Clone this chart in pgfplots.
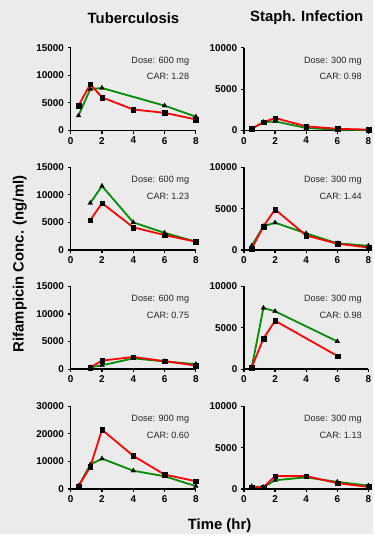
\documentclass[border=0pt]{standalone}
\usepackage{pgfplots}
\pgfplotsset{compat=1.18}
\usepackage{fontspec}
\setmainfont{Liberation Sans}
\definecolor{bg}{RGB}{235,235,235}
\definecolor{pgreen}{RGB}{0,140,0}
\definecolor{pred}{RGB}{255,0,0}
\pgfplotsset{
 panel/.style={scale only axis, height=83bp, anchor=south west,
  axis x line*=bottom, axis y line*=left,
  axis line style={line width=1.5bp, black, -},
  xmin=0, xmax=8, ymin=0, xtick={0,2,4,6,8},
  tick align=outside, major tick length=3.2bp,
  tick style={line width=1.2bp, black}, clip=false,
  ticklabel style={font=\bfseries\fontsize{10}{11}\selectfont},
  /pgf/number format/assume math mode=true,
  /pgf/number format/1000 sep={},
  scaled y ticks=false,
 },
 leftp/.style={panel, width=125.7bp},
 rightp/.style={panel, width=125bp, ymax=10000, ytick={0,5000,10000}},
 tb/.style={ymax=15000, ytick={0,5000,10000,15000}},
 gser/.style={pgreen, line width=1.8bp, mark=triangle*, mark size=2.8bp,
   mark options={black, fill=black, line width=0.2bp}},
 rser/.style={pred, line width=1.8bp, mark=square*, mark size=2.3bp,
   mark options={black, fill=black, line width=0.2bp}},
}
\tikzset{pnote/.style={anchor=east, font=\fontsize{9.2}{10}\selectfont, text=black!85}}
\newcommand{\notes}[2]{%
  \node[pnote] at (rel axis cs:0.974,0.84) {Dose: #1 mg};
  \node[pnote] at (rel axis cs:0.974,0.652) {CAR: #2};}
\begin{document}
\begin{tikzpicture}
\fill[bg] (0bp,0bp) rectangle (375bp,536bp);
\node[font=\bfseries\fontsize{15}{16}\selectfont] at (134bp,518bp) {Tuberculosis};
\node[font=\bfseries\fontsize{15}{16}\selectfont] at (308bp,518.5bp) {Staph. Infection};
\node[font=\bfseries\fontsize{15}{16}\selectfont, rotate=90] at (20bp,271bp) {Rifampicin Conc. (ng/ml)};
\node[font=\bfseries\fontsize{15}{16}\selectfont] at (220.5bp,8bp) {Time (hr)};

% Row 1
\begin{axis}[leftp, tb, at={(71bp,405bp)}]
\addplot[gser] coordinates {(0.5,2700)(1.25,7500)(2,7700)(6,4500)(8,2500)};
\addplot[rser] coordinates {(0.5,4500)(1.25,8400)(2,6000)(4,3800)(6,3200)(8,2000)};
\notes{600}{1.28}
\end{axis}
\begin{axis}[rightp, at={(245bp,405bp)}]
\addplot[gser] coordinates {(0.5,200)(1.25,1000)(2,1100)(4,300)(6,100)(8,50)};
\addplot[rser] coordinates {(0.5,200)(1.25,1000)(2,1500)(4,500)(6,200)(8,100)};
\notes{300}{0.98}
\end{axis}

% Row 2
\begin{axis}[leftp, tb, at={(71bp,285bp)}]
\addplot[gser] coordinates {(1.25,8500)(2,11600)(4,5000)(6,3100)(8,1500)};
\addplot[rser] coordinates {(1.25,5400)(2,8500)(4,4100)(6,2700)(8,1500)};
\notes{600}{1.23}
\end{axis}
\begin{axis}[rightp, at={(245bp,285bp)}]
\addplot[gser] coordinates {(0.5,500)(1.25,2850)(2,3300)(4,2000)(6,800)(8,500)};
\addplot[rser] coordinates {(0.5,150)(1.25,2850)(2,4900)(4,1750)(6,750)(8,300)};
\notes{300}{1.44}
\end{axis}

% Row 3
\begin{axis}[leftp, tb, at={(71bp,165.3bp)}]
\addplot[gser] coordinates {(1.25,300)(2,700)(4,1950)(6,1400)(8,900)};
\addplot[rser] coordinates {(1.25,300)(2,1550)(4,2200)(6,1450)(8,650)};
\notes{600}{0.75}
\end{axis}
\begin{axis}[rightp, at={(245bp,165.3bp)}]
\addplot[gser] coordinates {(0.5,200)(1.25,7400)(2,7000)(6,3350)};
\addplot[rser] coordinates {(0.5,200)(1.25,3700)(2,5850)(6,1600)};
\notes{300}{0.98}
\end{axis}

% Row 4
\begin{axis}[leftp, ymax=30000, ytick={0,10000,20000,30000}, at={(71bp,45bp)}]
\addplot[gser] coordinates {(0.5,1000)(1.25,8800)(2,11000)(4,6600)(6,4600)(8,1000)};
\addplot[rser] coordinates {(0.5,1000)(1.25,8000)(2,21500)(4,12000)(6,5200)(8,2800)};
\notes{900}{0.60}
\end{axis}
\begin{axis}[rightp, at={(245bp,45bp)}]
\addplot[gser] coordinates {(0.5,300)(1.25,200)(2,1050)(4,1400)(6,850)(8,400)};
\addplot[rser] coordinates {(0.5,200)(1.25,200)(2,1550)(4,1550)(6,700)(8,250)};
\notes{300}{1.13}
\end{axis}
\end{tikzpicture}
\end{document}
